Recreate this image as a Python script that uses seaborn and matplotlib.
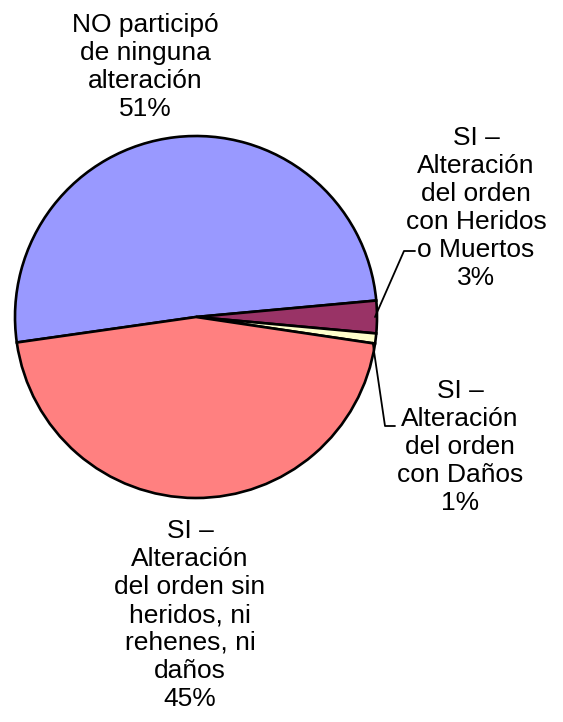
import numpy as np
import matplotlib
matplotlib.use("Agg")
import matplotlib.pyplot as plt
import seaborn as sns

# slice data (clockwise order starting from the left edge)
categories = [
    "NO participó\nde ninguna\nalteración",
    "SI –\nAlteración\ndel orden\ncon Heridos\no Muertos",
    "SI –\nAlteración\ndel orden\ncon Daños",
    "SI –\nAlteración\ndel orden sin\nheridos, ni\nrehenes, ni\ndaños",
]
values = [50.8, 2.9, 0.9, 45.4]
colors = ["#9999FF", "#993366", "#FFFFCC", "#FF8080"]

W, H = 563, 722

sns.set_theme(style="white")
plt.rcParams["font.family"] = ["Liberation Sans", "DejaVu Sans"]

fig = plt.figure(figsize=(W / 100, H / 100), dpi=100)
ax = fig.add_axes([0, 0, 1, 1])

cx, cy, r = 196, H - 317, 181
wedges, _ = ax.pie(
    values, colors=colors, startangle=188.1, counterclock=False,
    center=(cx, cy), radius=r, frame=True,
    wedgeprops=dict(edgecolor="black", linewidth=1.9),
)
ax.set_xlim(0, W)
ax.set_ylim(0, H)
ax.set_aspect("equal")
ax.axis("off")

total = sum(values)
pcts = [v / total * 100 for v in values]

# label positions in pixel coords (x, y from top)
label_pos = [(145, 67), (476, 208), (460, 447), (190, 615)]
for cat, pct, (lx, ly) in zip(categories, pcts, label_pos):
    ax.text(lx, H - ly, f"{cat}\n{pct:.0f}%", ha="center", va="center",
            fontsize=19, linespacing=1.21, color="black")


def edge_point(w):
    mid = np.deg2rad((w.theta1 + w.theta2) / 2)
    return cx + r * np.cos(mid), cy + r * np.sin(mid)


# leader lines for the two small slices
x0, y0 = edge_point(wedges[1])
ax.plot([x0 - 2, 404, 415], [y0, H - 251, H - 251], color="black", lw=1.3)
x0, y0 = edge_point(wedges[2])
ax.plot([x0 - 3, 385, 395], [y0 - 4, H - 426, H - 426], color="black", lw=1.3)

fig.savefig("out.png", dpi=100, facecolor="white")
